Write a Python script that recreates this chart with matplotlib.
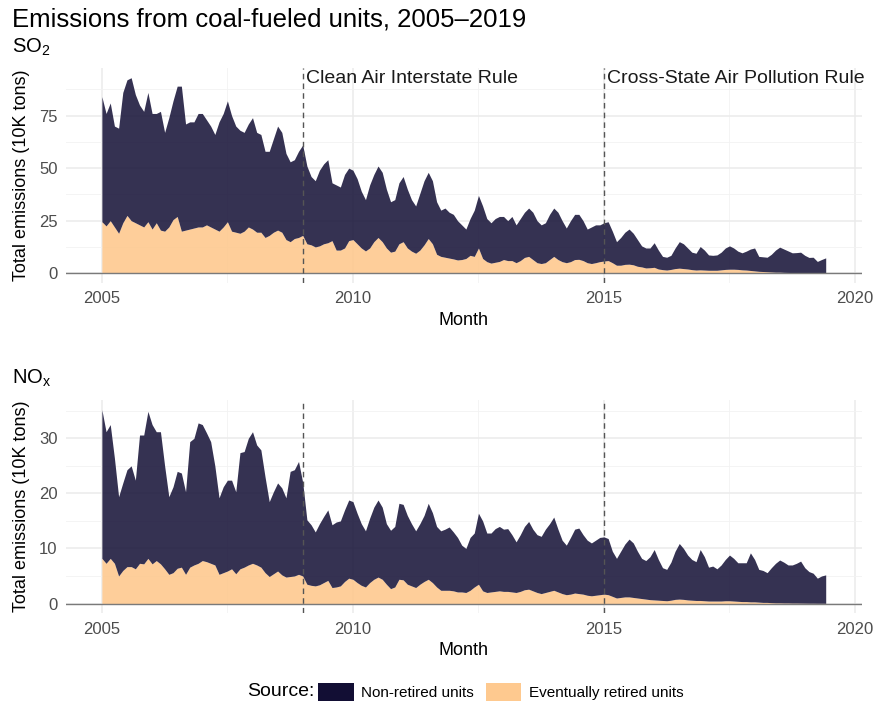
import pandas as pd
import matplotlib.pyplot as plt
from matplotlib.patches import Patch

plt.rcParams['font.family'] = ['Liberation Sans', 'DejaVu Sans']
plt.rcParams['mathtext.default'] = 'regular'

# monthly totals, Jan 2005 - Jun 2019 (10K tons)
so2_total = [
    84, 76, 81, 70, 69, 86, 92, 93, 85, 80, 77, 86,
    76, 76, 77, 67, 74, 82, 89, 89, 71, 72, 72, 76,
    76, 73, 70, 66, 72, 76, 82, 75, 70, 68, 67, 71,
    74, 67, 66, 58, 58, 64, 70, 67, 57, 53, 54, 58,
    61, 51, 46, 44, 49, 52, 54, 43, 42, 41, 47, 50,
    49, 45, 39, 35, 42, 47, 51, 48, 40, 34, 35, 43,
    46, 40, 35, 32, 38, 44, 48, 44, 34, 30, 31, 29,
    28, 25, 23, 21, 26, 30, 37, 32, 26, 24, 26, 27,
    27, 25, 27, 23, 26, 29, 31, 29, 25, 23, 24, 28,
    31, 29, 25, 21.5, 25, 28, 28, 25, 21, 22, 23, 23,
    24, 24.5, 20, 15, 17, 19.5, 21, 19, 16, 13, 12, 12,
    14.5, 11, 8, 7.6, 8.5, 12, 15, 14, 12, 10, 9.5, 12.7,
    11, 8.7, 8.5, 8.7, 10, 12, 13, 12, 10.5, 9.7, 10.5, 11.5,
    12, 8, 7.8, 7.6, 9, 11, 12.4, 11.5, 10.6, 9.7, 9.8, 10,
    8.5, 7.5, 7.6, 5.6, 6.5, 7.3,
]
so2_retired = [
    24.5, 22.5, 25, 22, 19, 24, 27.5, 25, 24, 23, 22, 24.5,
    21, 24, 20.5, 20, 22, 25.5, 27, 20, 20.5, 21, 21.5, 22,
    22, 23, 22, 21, 20, 22, 24.5, 20, 19.5, 19, 20, 22,
    21, 19.5, 19.5, 17, 18, 19.5, 20.5, 19.5, 16, 15, 16.5, 17,
    18, 14, 13.5, 12.5, 13, 14, 14.5, 15.5, 11, 11, 12, 15.5,
    16, 14, 12, 10.6, 12, 15, 17, 15, 12, 10, 10.5, 14,
    15, 12, 10.5, 9.5, 11, 13.5, 16.5, 14, 9, 8, 7.6, 7.2,
    6.8, 6.3, 6.5, 7, 8.5, 8, 12, 7, 5.5, 4.8, 5.2, 5.6,
    6.5, 6, 6, 5, 6, 7.5, 8, 6.5, 5, 4.6, 5, 6.5,
    8, 6.5, 5.5, 5, 5.5, 6.5, 6.6, 6, 5, 4.6, 5, 5.5,
    5.8, 6, 5, 3.8, 3.8, 4.2, 4.3, 4, 3.3, 3, 2.5, 2.6,
    2.8, 2, 1.7, 1.5, 1.8, 2.2, 2.4, 2.2, 2, 1.7, 1.5, 1.6,
    1.5, 1.4, 1.4, 1.4, 1.6, 1.8, 1.9, 1.9, 1.8, 1.6, 1.5, 1.3,
    1.1, 0.9, 0.8, 0.7, 0.6, 0.5, 0.5, 0.4, 0.35, 0.3, 0.25, 0.2,
    0.15, 0.12, 0.1, 0.08, 0.06, 0.05,
]
nox_total = [
    35.2, 31.2, 32.5, 26.4, 19.4, 21.9, 24.3, 25, 22.4, 30.6, 30.6, 34.9,
    32.5, 31.2, 31.2, 25, 19.4, 21.2, 24, 23.7, 20.3, 29.4, 30, 32.8,
    32.5, 31, 29.4, 25, 19.2, 21.2, 22.4, 22.4, 20.3, 27.4, 27.6, 30,
    31.2, 28.8, 27.9, 23, 18.5, 20.3, 21.9, 21, 19.2, 24, 24.3, 25.8,
    22, 15.2, 14.3, 13, 14.5, 15.8, 17, 14.3, 14.8, 15, 17, 18.8,
    18.5, 16.4, 14.5, 13.2, 15.5, 17.5, 18.8, 17.5, 14.5, 13.3, 14, 18.2,
    18, 16, 14.5, 13.2, 14.5, 16, 18.2, 16.5, 14, 13.2, 13.5, 13.9,
    13, 12, 10.6, 10, 12, 12.8, 16.4, 15, 12.8, 12.8, 13.6, 14,
    13.5, 13.6, 12.5, 11.2, 12.5, 14, 14.9, 13.5, 12.5, 12.2, 13.5, 14.5,
    15.7, 13.5, 11.5, 10.6, 12, 13.5, 13.7, 12.5, 11.5, 11, 11.5, 12,
    12.1, 11.8, 9.5, 8.2, 9.5, 10.8, 11.7, 11, 9.5, 8.2, 7.8, 8.5,
    9.8, 8, 6.5, 6.2, 7.5, 9.5, 10.9, 10, 8.8, 8, 7.6, 9.8,
    8.5, 6.6, 6.8, 6.3, 7, 8, 8.8, 8.2, 7.4, 7.4, 7.4, 9.2,
    8, 6.2, 6, 5.6, 6.5, 7.3, 7.9, 7.5, 7, 7, 7.3, 7.7,
    6.5, 5.8, 5.5, 4.6, 5, 5.2,
]
nox_retired = [
    8.2, 7.3, 8.2, 7.3, 5, 6, 6.7, 6.7, 6.3, 7.3, 7.2, 8.2,
    7.2, 7.8, 7.2, 6.3, 5.3, 5.6, 6.4, 6.6, 5.3, 6.6, 7, 7.3,
    7.8, 7.6, 7.3, 7, 5.3, 5.6, 5.9, 6.3, 5.4, 6.3, 6.6, 7,
    7.3, 7, 6.6, 5.6, 4.9, 5.4, 5.9, 5.2, 4.8, 4.9, 5, 5.3,
    5, 3.5, 3.3, 3.2, 3.4, 3.8, 4.2, 2.9, 3, 3.2, 4, 4.6,
    4.4, 3.8, 3.3, 3, 3.8, 4.4, 4.8, 4.4, 3.5, 2.7, 3, 4.4,
    4.3, 3.5, 3.2, 2.9, 3.5, 4, 4.4, 3.8, 3, 2.4, 2.4, 2.4,
    2.3, 2.1, 2.1, 2.0, 2.4, 3, 3.5, 2.3, 2, 2.1, 2.2, 2.3,
    2.2, 2.2, 2.1, 2.0, 2.2, 2.5, 2.6, 2.3, 2, 1.8, 2, 2.2,
    2.4, 2.1, 1.8, 1.6, 1.7, 1.9, 1.8, 1.7, 1.5, 1.4, 1.5, 1.6,
    1.7, 1.6, 1.3, 1.0, 1.1, 1.2, 1.2, 1.1, 1.0, 0.9, 0.8, 0.7,
    0.65, 0.6, 0.55, 0.5, 0.6, 0.75, 0.8, 0.75, 0.65, 0.6, 0.55, 0.55,
    0.5, 0.45, 0.45, 0.45, 0.45, 0.5, 0.5, 0.45, 0.4, 0.35, 0.35, 0.3,
    0.3, 0.25, 0.2, 0.2, 0.15, 0.12, 0.12, 0.1, 0.1, 0.08, 0.08, 0.07,
    0.06, 0.05, 0.05, 0.04, 0.04, 0.03,
]

rules = [2009, 2015]
rule_names = ['Clean Air Interstate Rule', 'Cross-State Air Pollution Rule']
series_names = ['Non-retired units', 'Eventually retired units']
dark = '#120E34'
light = '#FEC98F'

months = pd.date_range('2005-01-01', periods=len(so2_total), freq='MS')
xs = months.year + (months.month - 1) / 12

fig = plt.figure(figsize=(8.74, 7.02), dpi=100)
ax1 = fig.add_axes([0.0752, 0.5969, 0.9111, 0.3063])
ax2 = fig.add_axes([0.0752, 0.1265, 0.9111, 0.3037])

panels = [
    (ax1, so2_total, so2_retired, [0, 25, 50, 75], 12.5, (-4.65, 97.65)),
    (ax2, nox_total, nox_retired, [0, 10, 20, 30], 5, (-1.76, 36.96)),
]

for ax, total, retired, yticks, minor, ylim in panels:
    ax.fill_between(xs, 0, retired, color=light, alpha=0.9, lw=0, zorder=2)
    ax.fill_between(xs, retired, total, color=dark, alpha=0.85, lw=0, zorder=2)
    ax.axhline(0, color='#7a7a7a', lw=1, zorder=3)
    for r in rules:
        ax.axvline(r, color='#555555', ls=(0, (4, 3)), lw=1, zorder=4)

    ax.set_xlim(2004.28, 2020.14)
    ax.set_ylim(*ylim)
    ax.set_xticks([2005, 2010, 2015, 2020])
    ax.set_xticks([2007.5, 2012.5, 2017.5], minor=True)
    ax.set_yticks(yticks)
    ax.set_yticks([t + minor for t in yticks], minor=True)
    ax.grid(which='major', color='#ebebeb', lw=1.1, zorder=0)
    ax.grid(which='minor', color='#f2f2f2', lw=0.6, zorder=0)
    ax.set_axisbelow(True)
    for s in ax.spines.values():
        s.set_visible(False)
    ax.tick_params(which='both', length=0, labelsize=12, labelcolor='#4d4d4d', pad=6)
    ax.set_xlabel('Month', fontsize=13, labelpad=4)
    ax.set_ylabel('Total emissions (10K tons)', fontsize=13, labelpad=6)

for r, name in zip(rules, rule_names):
    ax1.text(r + 0.07, 92.4, name, fontsize=14, va='center', ha='left', color='#1a1a1a')

fig.text(12 / 874, 1 - 19 / 702, 'Emissions from coal-fueled units, 2005–2019',
         fontsize=18.5, va='center', ha='left')
fig.text(12 / 874, 1 - 47 / 702, 'SO$_2$', fontsize=14.5, va='center', ha='left')
fig.text(12 / 874, 1 - 378 / 702, 'NO$_x$', fontsize=14.5, va='center', ha='left')

# legend along the bottom
fig.text(247 / 874, 1 - 692 / 702, 'Source:', fontsize=14, va='center', ha='left')
handles = [Patch(facecolor=dark, edgecolor='none'), Patch(facecolor=light, edgecolor='none')]
fig.legend(handles, series_names, ncol=2, loc='center',
           bbox_to_anchor=(501 / 874, 1 - 692 / 702), frameon=False, fontsize=11,
           handlelength=2.3, handleheight=1.5, handletextpad=0.5, columnspacing=0.8)

fig.savefig('out.png', dpi=100)
